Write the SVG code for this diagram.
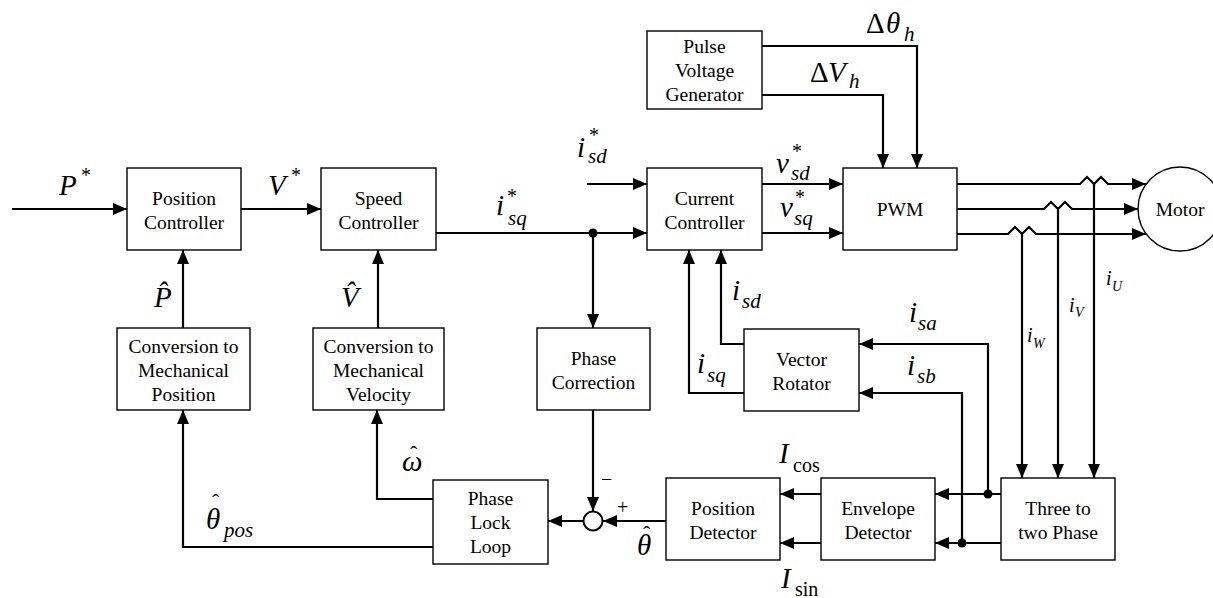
<svg xmlns="http://www.w3.org/2000/svg" width="1213" height="598" viewBox="0 0 1213 598" font-family="Times New Roman, Liberation Serif, serif">
<style>
text{font-family:"Times New Roman","Liberation Serif",Times,"DejaVu Serif","Noto Serif",serif;fill:#000}
.bx rect,.bx circle{fill:#fff;stroke:#000;stroke-width:1.4}
.bx text{font-size:19.5px;text-anchor:middle}
.c{fill:none;stroke:#000;stroke-width:2.2}
.a{marker-end:url(#ah)}
.m{font-style:italic;font-size:29px}
.s{font-style:italic;font-size:21px}
.u{font-size:29px}
.us{font-size:20px}
.st{font-size:20px}
.h{font-size:22px;font-style:normal}
.sm{font-style:italic;font-size:20px}
.ss{font-style:italic;font-size:14px}
</style>
<defs>
<marker id="ah" markerUnits="userSpaceOnUse" markerWidth="14" markerHeight="12" refX="14" refY="6" orient="auto">
<path d="M0,0 L14,6 L0,12 z" fill="#000"/>
</marker>
</defs>

<g id="connectors">
<path class="c a" d="M12,209 H127"/>
<path class="c a" d="M241,209 H321"/>
<path class="c a" d="M436,233 H647"/>
<path class="c a" d="M593,233 V328"/>
<path class="c a" d="M587,184 H647"/>
<path class="c a" d="M762,184 H843"/>
<path class="c a" d="M762,233 H843"/>
<path class="c a" d="M762,46 H917 V168"/>
<path class="c a" d="M762,95 H883 V168"/>
<path class="c a" d="M957,184 H1080 L1087,177 L1094,184 L1101,177 L1108,184 H1146"/>
<path class="c a" d="M957,209 H1044 L1051,202 L1058,209 L1065,202 L1072,209 H1138"/>
<path class="c a" d="M957,234 H1008 L1015,227 L1022,234 L1029,227 L1036,234 H1146"/>
<path class="c a" d="M1094,184 V478"/>
<path class="c a" d="M1058,209 V478"/>
<path class="c a" d="M1022,234 V478"/>
<path class="c a" d="M1001,494 H935"/>
<path class="c a" d="M1001,543 H935"/>
<path class="c a" d="M988,494 V344 H859"/>
<path class="c a" d="M962,543 V393 H859"/>
<path class="c a" d="M821,494 H780"/>
<path class="c a" d="M821,543 H780"/>
<path class="c a" d="M666,521 H603"/>
<path class="c a" d="M593,410 V511"/>
<path class="c a" d="M584,521 H548"/>
<path class="c a" d="M433,499 H377 V410"/>
<path class="c a" d="M433,547 H183 V410"/>
<path class="c a" d="M183,328 V250"/>
<path class="c a" d="M378,328 V250"/>
<path class="c a" d="M744,344 H721 V250"/>
<path class="c a" d="M744,393 H689 V250"/>
<circle cx="593" cy="233" r="4.5" fill="#000"/>
<circle cx="988" cy="494" r="4.5" fill="#000"/>
<circle cx="962" cy="543" r="4.5" fill="#000"/>
</g>

<g id="sum" class="bx"><circle cx="593" cy="521" r="9.5" style="stroke-width:2"/></g>

<g id="pos_ctrl" class="bx"><rect x="127" y="168" width="114" height="82"/><text x="184" y="204.5">Position</text><text x="184" y="228.5">Controller</text></g>
<g id="speed_ctrl" class="bx"><rect x="321" y="168" width="115" height="82"/><text x="378.5" y="204.5">Speed</text><text x="378.5" y="228.5">Controller</text></g>
<g id="cur_ctrl" class="bx"><rect x="647" y="168" width="115" height="82"/><text x="704.5" y="204.5">Current</text><text x="704.5" y="228.5">Controller</text></g>
<g id="pwm" class="bx"><rect x="843" y="168" width="114" height="82"/><text x="900" y="216">PWM</text></g>
<g id="motor" class="bx"><circle cx="1180" cy="209" r="42"/><text x="1180" y="216">Motor</text></g>
<g id="pulse" class="bx"><rect x="647" y="31" width="115" height="78"/><text x="704.5" y="53">Pulse</text><text x="704.5" y="77">Voltage</text><text x="704.5" y="101">Generator</text></g>
<g id="conv_pos" class="bx"><rect x="117" y="328" width="133" height="82"/><text x="183.5" y="352.5">Conversion to</text><text x="183.5" y="376.5">Mechanical</text><text x="183.5" y="400.5">Position</text></g>
<g id="conv_vel" class="bx"><rect x="313" y="328" width="131" height="82"/><text x="378.5" y="352.5">Conversion to</text><text x="378.5" y="376.5">Mechanical</text><text x="378.5" y="400.5">Velocity</text></g>
<g id="phase_corr" class="bx"><rect x="537" y="328" width="113" height="82"/><text x="593.5" y="364.5">Phase</text><text x="593.5" y="388.5">Correction</text></g>
<g id="vec_rot" class="bx"><rect x="744" y="329" width="115" height="82"/><text x="801.5" y="365.5">Vector</text><text x="801.5" y="389.5">Rotator</text></g>
<g id="pll" class="bx"><rect x="433" y="480" width="115" height="84"/><text x="490.5" y="505">Phase</text><text x="490.5" y="529">Lock</text><text x="490.5" y="553">Loop</text></g>
<g id="pos_det" class="bx"><rect x="666" y="478" width="114" height="82"/><text x="723" y="514.5">Position</text><text x="723" y="538.5">Detector</text></g>
<g id="env_det" class="bx"><rect x="821" y="478" width="114" height="82"/><text x="878" y="514.5">Envelope</text><text x="878" y="538.5">Detector</text></g>
<g id="three_two" class="bx"><rect x="1001" y="478" width="114" height="82"/><text x="1058" y="514.5">Three to</text><text x="1058" y="538.5">two Phase</text></g>

<g id="labels">
<text class="m" x="59" y="195">P</text><text class="st" x="81" y="182">*</text>
<text class="m" x="268" y="195">V</text><text class="st" x="291" y="182">*</text>
<text class="m" x="496" y="215">i</text><text class="s" x="508" y="225">sq</text><text class="st" x="507" y="203">*</text>
<text class="m" x="577" y="157">i</text><text class="s" x="588" y="163">sd</text><text class="st" x="589" y="142">*</text>
<text class="m" x="776" y="173">v</text><text class="s" x="791" y="180">sd</text><text class="st" x="792" y="158">*</text>
<text class="m" x="780" y="217">v</text><text class="s" x="794" y="225">sq</text><text class="st" x="795" y="204">*</text>
<text class="u" x="866" y="33">Δ</text><text class="m" x="886" y="33">θ</text><text class="s" x="904" y="41">h</text>
<text class="u" x="810" y="82">Δ</text><text class="m" x="828" y="82">V</text><text class="s" x="849" y="88">h</text>
<text class="m" x="154" y="307">P̂</text>
<text class="m" x="341" y="307">V̂</text>
<text class="m" x="402" y="471">ω<tspan class="h" x="410" y="461">ˆ</tspan></text>
<text class="m" x="206" y="529">θ<tspan class="h" x="212" y="509">ˆ</tspan></text><text class="s" x="224" y="537">pos</text>
<text class="m" x="637" y="555">θ<tspan class="h" x="643" y="541">ˆ</tspan></text>
<text class="m" x="732" y="300">i</text><text class="s" x="742" y="308">sd</text>
<text class="m" x="697" y="373">i</text><text class="s" x="707" y="382">sq</text>
<text class="m" x="909" y="322">i</text><text class="s" x="918" y="330">sa</text>
<text class="m" x="907" y="375">i</text><text class="s" x="917" y="383">sb</text>
<text class="sm" x="1106" y="285">i</text><text class="ss" x="1112" y="291">U</text>
<text class="sm" x="1069" y="312">i</text><text class="ss" x="1075" y="317">V</text>
<text class="sm" x="1027" y="342">i</text><text class="ss" x="1033" y="348">W</text>
<text class="m" x="779" y="463">I</text><text class="us" x="793" y="472">cos</text>
<text class="m" x="781" y="588">I</text><text class="us" x="795" y="596">sin</text>
<text class="us" x="601" y="486">−</text>
<text class="us" x="617" y="514">+</text>
</g>
</svg>
